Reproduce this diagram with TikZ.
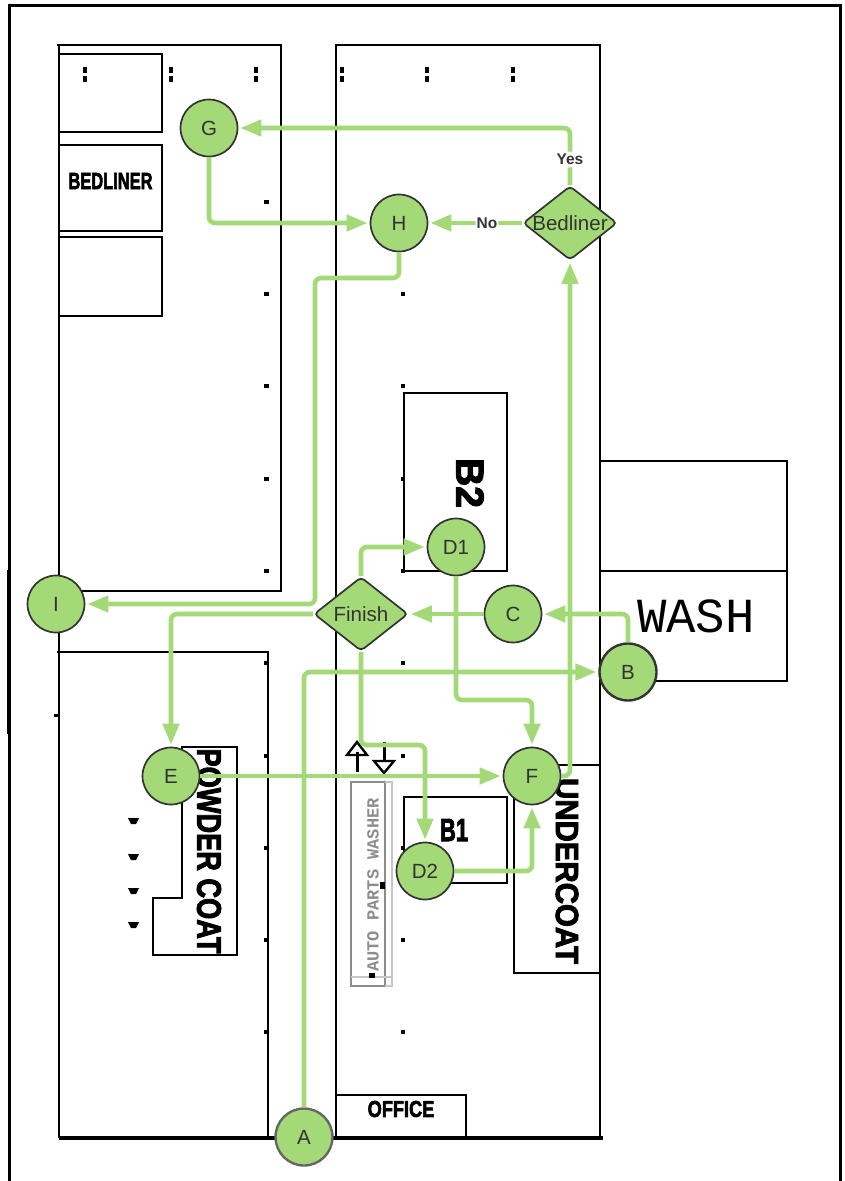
\documentclass[tikz,border=0pt]{standalone}
\usepackage{fontspec}
\usepackage{xcolor}
\setmainfont{Liberation Sans}
\setmonofont{Liberation Mono}
\newfontfamily\planfont[FakeBold=3]{Liberation Sans Bold}
\usetikzlibrary{arrows.meta,shapes.geometric,calc}
\definecolor{stepgreen}{HTML}{A3D977}
\definecolor{stepline}{HTML}{333333}
\definecolor{washgray}{HTML}{8C8C8C}

\begin{document}
\begin{tikzpicture}[x=1pt,y=-1pt,
   wall/.style={draw=black,line width=2.2pt},
   bigwall/.style={draw=black,line width=4pt},
   stepnode/.style={circle,draw=stepline,line width=1.7pt,fill=stepgreen,text=stepline,
             minimum size=57pt,inner sep=0pt,font=\fontsize{20.5}{20.5}\selectfont},
   gate/.style={diamond,draw=stepline,line width=1.7pt,fill=stepgreen,text=stepline,
             rounded corners=4pt,aspect=1.27,minimum width=94pt,minimum height=74pt,inner sep=-5pt,
             font=\fontsize{20.5}{20.5}\selectfont},
   flow/.style={draw=stepgreen,line width=4.6pt,rounded corners=6pt,
             -{Triangle[length=21pt,width=16pt]},shorten >=2pt},
   flowlabel/.style={fill=white,inner xsep=1pt,inner ysep=2.5pt,text=stepline,
             font=\bfseries\fontsize{15.5}{15.5}\selectfont},
   plantext/.style={inner sep=0pt,font=\planfont\fontsize{#1}{#1}\selectfont}]
  \useasboundingbox (0,0) rectangle (844,1181);
  % outer frame
  \draw[wall,line width=3pt] (9,1181) -- (9,5) -- (840,5) -- (840,1181);
  \draw[black,line width=3.8pt] (9,570) -- (9,734);
  % left building
  \draw[wall] (57,45) -- (281,45) -- (281,591) -- (59,591);
  \draw[wall] (59,45) -- (59,1138);
  \draw[wall] (59,54) -- (162,54) -- (162,132) -- (59,132);
  \draw[wall] (59,145) -- (162,145) -- (162,231) -- (59,231);
  \draw[wall] (59,237) -- (162,237) -- (162,316) -- (59,316);
  \draw[wall] (57,652) -- (268,652) -- (268,1138);
  \draw[wall] (182,776) -- (182,747) -- (237,747) -- (237,955) -- (153,955) -- (153,898) -- (182,898) -- (182,776);
  % right building
  \draw[wall] (336,1138) -- (336,45) -- (600,45) -- (600,1138);
  \draw[wall] (404,571) -- (404,393) -- (507,393) -- (507,571) -- cycle;
  \draw[wall] (600,461) -- (787,461) -- (787,681) -- (650,681);
  \draw[wall] (600,571) -- (787,571);
  \draw[wall] (404,797) -- (507,797) -- (507,883) -- (404,883) -- cycle;
  \draw[wall] (600,765) -- (514,765) -- (514,973) -- (600,973);
  \draw[wall] (336,1095) -- (466,1095) -- (466,1138);
  \draw[bigwall] (59,1138) -- (603,1138);
  % washer
  \draw[washgray,line width=1.8pt] (351,782) rectangle (385,986);
  \draw[washgray!50,line width=1.4pt] (385,782) -- (392,782) -- (392,986) -- (385,986) (351,977) -- (392,977);
  \draw[black,line width=3pt] (357,772) -- (357,752);
  \draw[black,line width=2.4pt] (347,755) -- (357,742) -- (367,755) -- cycle;
  \draw[black,line width=3pt] (384,742) -- (384,762);
  \draw[black,line width=2.4pt] (374,761) -- (394,761) -- (384,773) -- cycle;
  % columns
  \foreach \px in {85,171,256,342,427,513}
    \foreach \py in {70,79}
      \fill (\px-2,\py-3) rectangle (\px+2,\py+3);
  \foreach \py in {202,294,386,479,571,663,756,848,940,1032}
    \fill (264,\py-2) rectangle (269,\py+2);
  \foreach \py in {294,386,479,571,663,756,848,940,1032}
    \fill (401,\py-2) rectangle (405,\py+2);
  \foreach \py in {821,857,891,925}
    \fill (128,\py-3) -- (139,\py-3) -- (136,\py+3) -- (131,\py+3) -- cycle;
  \fill (380,882) rectangle (385,889);
  \fill (369,973) rectangle (375,978);
  \fill (54,714) rectangle (59,717);
  % room names
  \node[plantext=23.5] (bedlinerroom) at (110.5,181) {\scalebox{0.7}[1]{BEDLINER}};
  \node[plantext=39,rotate=-90] (b2room) at (470,483) {B2};
  \node[inner sep=0pt,font=\ttfamily\fontsize{49}{49}\selectfont] (washroom) at (696,616) {WASH};
  \node[plantext=34,rotate=-90] (powderroom) at (209,851) {\scalebox{0.8}[1]{POWDER COAT}};
  \node[plantext=32,rotate=-90] (underroom) at (567,871) {\scalebox{0.92}[1]{UNDERCOAT}};
  \node[plantext=32] (b1room) at (454,830) {\scalebox{0.69}[1]{B1}};
  \node[plantext=23] (officeroom) at (401,1109) {\scalebox{0.79}[1]{OFFICE}};
  \node[inner sep=0pt,text=washgray,font=\ttfamily\bfseries\fontsize{17}{17}\selectfont,rotate=90] (washerroom) at (373,885) {AUTO PARTS WASHER};
  % steps
  \node[stepnode,draw=stepline!75,line width=2.4pt] (a) at (304,1137) {A};
  \node[stepnode,line width=2.4pt] (b) at (628,672) {B};
  \node[stepnode] (c) at (513,614) {C};
  \node[stepnode] (d1) at (456,547) {D1};
  \node[stepnode] (d2) at (425,871) {D2};
  \node[stepnode] (e) at (171,776) {E};
  \node[stepnode] (f) at (532,776) {F};
  \node[stepnode] (g) at (209,128) {G};
  \node[stepnode] (h) at (399,223) {H};
  \node[stepnode] (i) at (56,604) {I};
  \node[gate] (bedliner) at (570,223) {Bedliner};
  \node[gate] (finish) at (361,614) {Finish};
  \coordinate (hbend) at (315,278);
  \coordinate (dbend) at (456,700);
  \coordinate (wbend) at (361,745);
  % flow
  \draw[flow] (a.north) |- (b.west);
  \draw[flow] (b.north) |- (c.east);
  \draw[flow] (c.west) -- (finish.east);
  \draw[flow] (finish.north) |- (d1.west);
  \draw[flow] (finish.west) -| (e.north);
  \draw[flow] (finish.south) -- (wbend) -| (d2.north);
  \draw[flow] (d1.south) -- (dbend) -| (f.north);
  \draw[flow] (d2.east) -| (f.south);
  \draw[flow] (e.east) -- (f.west);
  \draw[flow] (f.east) -| (bedliner.south);
  \draw[flow] (bedliner.north) |- (g.east)
       node[pos=0.224,flowlabel] (yes) {Yes};
  \draw[flow] (bedliner.west) -- (h.east)
       node[pos=0.375,flowlabel] (no) {No};
  \draw[flow] (g.south) |- (h.west);
  \draw[flow] (h.south) |- (hbend) |- (i.east);
\end{tikzpicture}
\end{document}
